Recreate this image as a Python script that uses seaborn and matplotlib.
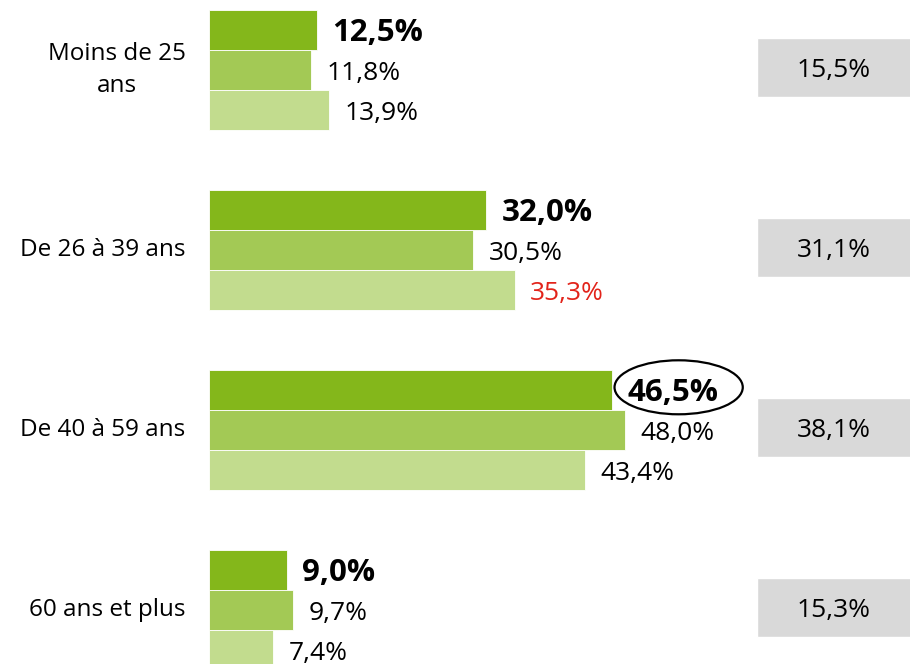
import numpy as np
import matplotlib
matplotlib.use("Agg")
import matplotlib.pyplot as plt
from matplotlib.patches import Ellipse
import seaborn as sns
import pandas as pd

# data
ages = ["Moins de 25\nans", "De 26 à 39 ans", "De 40 à 59 ans", "60 ans et plus"]
series = ["Série 1", "Série 2", "Série 3"]
serie_1 = [12.5, 32.0, 46.5, 9.0]
serie_2 = [11.8, 30.5, 48.0, 9.7]
serie_3 = [13.9, 35.3, 43.4, 7.4]
reference = [15.5, 31.1, 38.1, 15.3]

colors = ["#84b71b", "#a3c955", "#c2dc8e"]


def fmt(v):
    return f"{v:.1f}%".replace(".", ",")


def main():
    df = pd.DataFrame({
        "age": ages * 3,
        "serie": [s for s in series for _ in ages],
        "valeur": serie_1 + serie_2 + serie_3,
    })

    sns.set_style("white")
    plt.rcParams["font.family"] = ["Open Sans", "DejaVu Sans"]
    plt.rcParams["text.color"] = "black"
    plt.rcParams["ytick.color"] = "black"

    fig = plt.figure(figsize=(9.1, 6.64), dpi=100)
    ax = fig.add_axes([209 / 910, 0, 701 / 910, 1])

    sns.barplot(data=df, x="valeur", y="age", hue="serie", orient="h",
                palette=colors, saturation=1, width=0.667, gap=0,
                edgecolor="white", linewidth=0.6, legend=False, ax=ax)

    ax.set_xlim(0, 80.9)
    ax.set_ylim(3.3, -0.389)

    # value labels next to each bar
    for i, cont in enumerate(ax.containers):
        vals = [serie_1, serie_2, serie_3][i]
        if i == 0:
            texts = ax.bar_label(cont, labels=[fmt(v) for v in vals], padding=11,
                                 fontsize=22.5, fontweight="bold")
        else:
            texts = ax.bar_label(cont, labels=[fmt(v) for v in vals], padding=11,
                                 fontsize=19)
        for t in texts:
            t.set_verticalalignment("center_baseline")
        if i == 2:
            texts[1].set_color("#e2231a")

    # ellipse around the highlighted value
    bar = ax.containers[0][2]
    yc = bar.get_y() + bar.get_height() / 2
    ax.add_patch(Ellipse((serie_1[2] + 7.7, yc - 0.015), 14.8, 0.30, fill=False,
                         edgecolor="black", linewidth=1.6, clip_on=False))

    # grey reference boxes on the right
    pos = np.arange(len(ages))
    ax.barh(pos - 0.014, [17.8] * len(ages), left=63.2, height=0.33, color="#d9d9d9")
    for p, v in zip(pos, reference):
        ax.text(63.2 + 17.8 / 2, p - 0.014, fmt(v), ha="center",
                va="center_baseline", fontsize=19)

    ax.set_xlabel("")
    ax.set_ylabel("")
    ax.set_xticks([])
    ax.tick_params(axis="y", length=0, pad=17, labelsize=17.5)
    for lab in ax.get_yticklabels():
        lab.set_multialignment("center")
        lab.set_linespacing(1.4)
        lab.set_verticalalignment("center")
    sns.despine(ax=ax, left=True, bottom=True)

    fig.savefig("out.png", dpi=100)


if __name__ == "__main__":
    main()
